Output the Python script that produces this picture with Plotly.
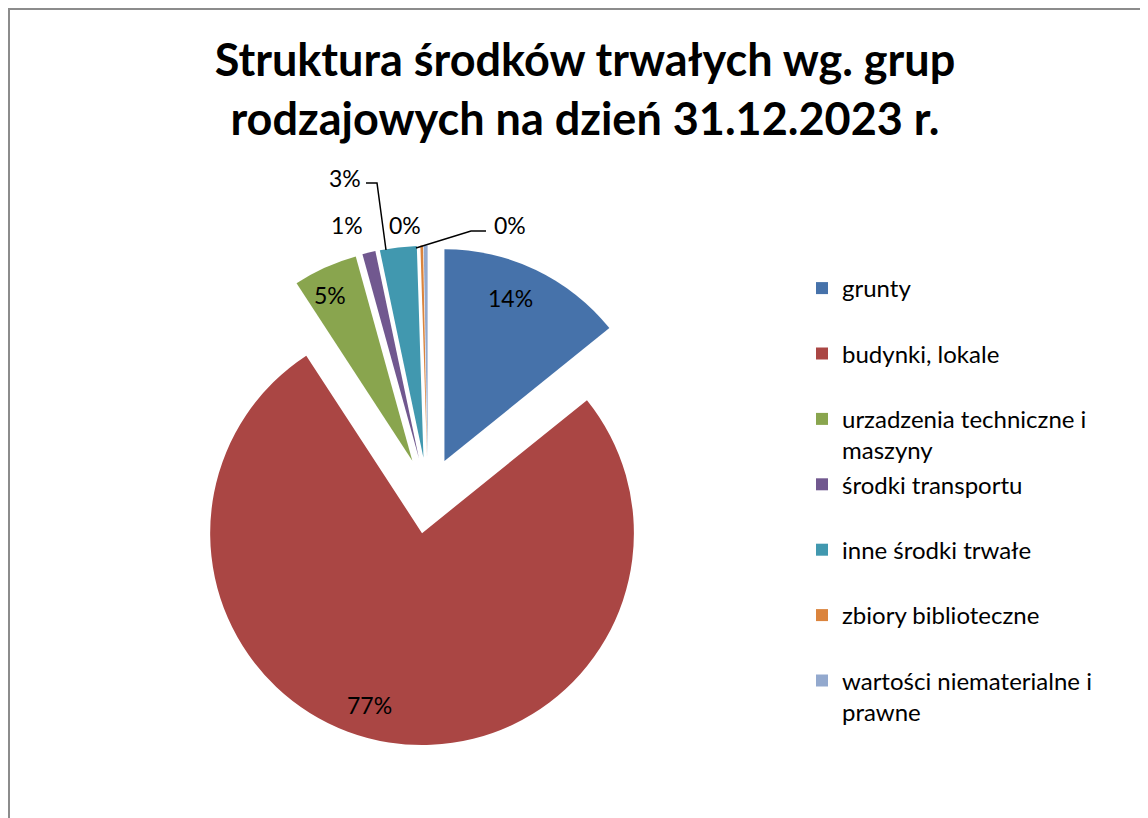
import plotly.graph_objects as go

categories = [
    "grunty",
    "budynki, lokale",
    "urzadzenia techniczne i<br>maszyny",
    "środki transportu",
    "inne środki trwałe",
    "zbiory biblioteczne",
    "wartości niematerialne i<br>prawne",
]
shares = [14.2, 76.6, 4.9, 1.0, 2.8, 0.2, 0.3]
colors = ["#4672AA", "#AA4644", "#89A54E", "#71588F", "#4198AF", "#DB843D", "#93A9CE"]

W, H = 1148, 818
OFF = 8  # page body margin


def px(x):
    return (x - OFF) / W


def py(y):
    return 1 - (y - OFF) / H


# legend labels padded to two lines so entries are evenly spaced
legend_labels = [c if "<br>" in c else c + "<br> " for c in categories]

total = sum(shares)
pct_text = [f"{round(100 * v / total)}%" for v in shares]

fig = go.Figure()
fig.add_trace(go.Pie(
    labels=legend_labels,
    values=shares,
    sort=False,
    direction="clockwise",
    rotation=0,
    pull=[0.18] * len(shares),
    marker=dict(colors=colors, line=dict(width=0)),
    textinfo="none",
    domain=dict(x=[px(178), px(678)], y=[py(745.5), py(245.5)]),
    showlegend=True,
    hoverinfo="label+percent",
))

# data label placement (screen px)
label_pos = [(510, 298), (369, 705), (330, 295), (347, 225), (345, 178), (405, 225), (510, 225)]
annotations = [
    dict(
        x=px(lx), y=py(ly), xref="paper", yref="paper",
        text=txt, showarrow=False,
        font=dict(family="Lato", size=23, color="black"),
        xanchor="center", yanchor="middle",
    )
    for txt, (lx, ly) in zip(pct_text, label_pos)
]


def path(points):
    return "M " + " L ".join(f"{px(x)} {py(y)}" for x, y in points)


leader_lines = [
    [(366, 183), (377, 183), (386, 250)],
    [(486, 231), (471, 231), (416, 248)],
]
shapes = [
    dict(type="rect", xref="paper", yref="paper",
         x0=1 / W, x1=1.02, y0=-0.05, y1=1 - 1 / H,
         line=dict(color="#8C8C8C", width=2), fillcolor="rgba(0,0,0,0)")
]
for pts in leader_lines:
    shapes.append(dict(type="path", xref="paper", yref="paper", path=path(pts),
                       line=dict(color="black", width=1.5)))

fig.update_layout(
    width=W,
    height=H,
    margin=dict(l=0, r=0, t=0, b=0),
    paper_bgcolor="white",
    plot_bgcolor="white",
    font=dict(family="Lato", color="black"),
    title=dict(
        text="<b>Struktura środków trwałych wg. grup<br>rodzajowych na dzień 31.12.2023 r.</b>",
        font=dict(family="Lato", size=45, color="black"),
        x=px(585), xanchor="center",
        y=py(76), yanchor="top",
    ),
    legend=dict(
        x=px(802), xanchor="left",
        y=py(266), yanchor="top",
        valign="top",
        font=dict(family="Lato", size=24, color="black"),
        bgcolor="rgba(0,0,0,0)",
        traceorder="normal",
    ),
    annotations=annotations,
    shapes=shapes,
)

fig.write_html("out.html")
